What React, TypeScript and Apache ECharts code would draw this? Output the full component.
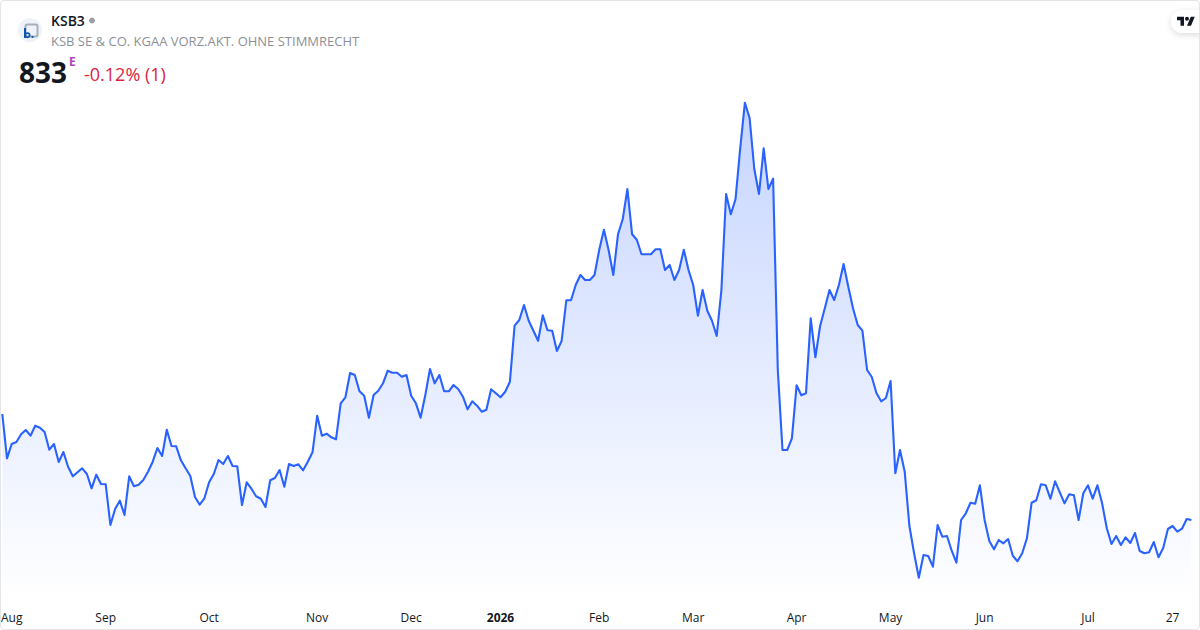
import React, { useEffect, useRef } from "react";
import * as echarts from "echarts";

const symbol = "KSB3";
const companyName = "KSB SE & CO. KGAA VORZ.AKT. OHNE STIMMRECHT";
const lastPrice = "833";
const exchangeFlag = "E";
const changeText = "-0.12% (1)";

const pricesA = [
  939, 894.7, 909, 911, 918.7, 923, 917.3, 927.3, 925.3, 921, 903.3, 909, 891, 901, 886.3, 876.7, 880.7, 884.7, 879, 864.7,
  878.3, 869, 868.7, 828, 844, 852.3, 838, 876.7, 866.7, 868.3, 873, 881.3, 891.3, 905, 897, 923.3, 907, 906.7, 892.7, 884.7,
  877, 856, 848.3, 854.7, 870.7, 879, 893, 889, 897, 887, 886.7, 848, 870.7, 864.3, 856.7, 854.3, 846, 872.7, 875, 883,
  866.3, 889, 887, 888.7, 882.7, 891.3, 900.7, 937.3, 917.3, 919.3, 915.7, 913.7, 949.7, 955.7, 980, 978, 961.7, 957.3, 935.3, 958,
  962.3, 969.7, 982.3, 980.3, 980.3, 976.3, 978, 957.3, 949.7, 935.3, 958, 984, 969.7, 978, 961.7, 961.7, 968, 964, 956.3, 943.7,
];
const pricesB = [
  951.7, 947.3, 941.3, 943.3, 963.7, 959.7, 955.7, 961.3, 971.3, 1027.3, 1033, 1048, 1032.3, 1022.3, 1012.3, 1037.7, 1022.7, 1022.3, 1002, 1012,
  1052.7, 1052.7, 1068, 1078, 1073, 1073, 1078, 1103, 1123.3, 1103, 1078, 1118.7, 1133.7, 1164, 1118.7, 1113.3, 1098.7, 1098.7, 1098.7, 1103.7,
  1103.7, 1083, 1088, 1073, 1083, 1103.3, 1083, 1068, 1037.3, 1063, 1042.3, 1032.3, 1017, 1063, 1159, 1138.7, 1153.7, 1204.7, 1250.3, 1235,
  1184, 1159, 1204.7, 1164, 1174.3, 983, 903, 903, 914.7, 967.7, 957.7, 959.7, 1034.7, 995.7, 1027, 1044.7, 1063, 1053, 1068, 1089,
];
const pricesC = [
  1066.3, 1044.7, 1028, 1022.3, 983, 976, 959.7, 951.7, 955, 972, 879.7, 903, 881.3, 827, 799.7, 775.3, 798, 797, 786.3, 828,
  816.3, 817, 802.3, 790.3, 833, 839.7, 850.3, 849.3, 867.7, 833, 812, 803.7, 813, 809.7, 814, 797.3, 791.7, 799.7, 814.7, 850.3,
  852.7, 868.7, 867.7, 854.3, 871.7, 860.7, 849.7, 858.7, 857.7, 833, 859.7, 867.7, 854.3, 867.7, 849.7, 824.7, 809, 817, 808, 815.7,
  810, 820, 802, 799.7, 800.7, 811, 795.7, 805, 824, 827, 821.3, 824.3, 834, 833,
];
const prices = [...pricesA, ...pricesB, ...pricesC];

const tickIndexes = [2, 22, 44, 67, 87, 106, 127, 147, 169, 189, 209, 231, 249];
const tickLabels = ["Aug", "Sep", "Oct", "Nov", "Dec", "2026", "Feb", "Mar", "Apr", "May", "Jun", "Jul", "27"];
const categories = prices.map((_, i) => {
  const k = tickIndexes.indexOf(i);
  return k >= 0 ? tickLabels[k] : String(i);
});

echarts.graphic.registerShape(
  "tvLogo",
  echarts.graphic.extendPath("M14 25H7V14H0V7h14v18zM28 25h-8l7.5-18h8L28 25zM20 15a4 4 0 1 0 0-8a4 4 0 0 0 0 8z", {}) as any
);

export default function App() {
  const ref = useRef<HTMLDivElement>(null);
  useEffect(() => {
    document.body.style.margin = "0";
    document.body.style.background = "#fff";
    const chart = echarts.init(ref.current!, undefined, { renderer: "svg" });
    const font = "'Open Sans', sans-serif";
    chart.setOption({
      animation: false,
      backgroundColor: "transparent",
      grid: { left: 2.3, right: 8.6, top: 0, height: 600, containLabel: false, outerBoundsMode: "none" },
      xAxis: {
        type: "category",
        data: categories,
        boundaryGap: false,
        axisLine: { show: false },
        axisTick: { show: false },
        splitLine: { show: false },
        axisLabel: {
          interval: (i: number) => tickIndexes.includes(i),
          formatter: (v: string) => (v === "2026" ? "{bold|2026}" : v),
          color: "#131722",
          fontFamily: font,
          fontSize: 12,
          margin: 11,
          hideOverlap: false,
          rich: { bold: { fontWeight: 700, fontFamily: font, fontSize: 12, color: "#131722" } },
        },
      },
      yAxis: { type: "value", min: 753, max: 1353, show: false, splitLine: { show: false } },
      series: [
        {
          type: "line",
          data: prices,
          showSymbol: false,
          symbol: "none",
          smooth: false,
          lineStyle: { color: "#2962ff", width: 2.1, join: "round" },
          areaStyle: {
            color: {
              type: "linear",
              x: 0,
              y: 0,
              x2: 0,
              y2: 1,
              colorStops: [
                { offset: 0, color: "rgba(41,98,255,0.38)" },
                { offset: 1, color: "rgba(41,98,255,0)" },
              ],
            },
          },
        },
      ],
      graphic: [
        { type: "rect", shape: { x: 1171, y: 10, width: 40, height: 23, r: 12 }, style: { fill: "#fff", shadowBlur: 6, shadowColor: "rgba(0,0,0,0.14)", shadowOffsetY: 2 }, z: 10 },
        { type: "tvLogo", x: 1177, y: 13.2, scaleX: 0.5, scaleY: 0.5, style: { fill: "#131722" }, z: 11 },
        { type: "circle", shape: { cx: 30, cy: 30, r: 12 }, style: { fill: "#eef2fa" }, z: 10 },
        { type: "rect", shape: { x: 25.5, y: 24.5, width: 12, height: 12, r: 2 }, style: { fill: "none", stroke: "#a9adb5", lineWidth: 2 }, z: 11 },
        { type: "rect", shape: { x: 24, y: 28, width: 2, height: 10 }, style: { fill: "#0e57ad" }, z: 12 },
        { type: "ring", shape: { cx: 27.5, cy: 35.2, r: 3, r0: 1.3 }, style: { fill: "#0e57ad" }, z: 12 },
        { type: "circle", shape: { cx: 32.5, cy: 37, r: 1.1 }, style: { fill: "#0e57ad" }, z: 12 },
        { type: "text", x: 51, y: 20.5, style: { text: symbol, fontFamily: font, fontSize: 14, fontWeight: 600, fill: "#131722", verticalAlign: "middle" }, z: 11 },
        { type: "circle", shape: { cx: 92, cy: 20.5, r: 3 }, style: { fill: "#9b9ea6" }, z: 11 },
        { type: "text", x: 51, y: 41, style: { text: companyName, fontFamily: font, fontSize: 13, fill: "#8c8f97", verticalAlign: "middle" }, z: 11 },
        { type: "text", x: 19, y: 71.5, style: { text: lastPrice, fontFamily: font, fontSize: 28, fontWeight: 700, fill: "#131722", verticalAlign: "middle" }, z: 11 },
        { type: "text", x: 69, y: 61.5, style: { text: exchangeFlag, fontFamily: font, fontSize: 12, fontWeight: 700, fill: "#ab47bc", verticalAlign: "middle" }, z: 11 },
        { type: "text", x: 84, y: 74, style: { text: changeText, fontFamily: font, fontSize: 18, fill: "#d9243f", verticalAlign: "middle" }, z: 11 },
      ],
    });
    return () => chart.dispose();
  }, []);
  return (
    <div style={{ position: "fixed", left: 0, top: 0, width: 1200, height: 630, overflow: "hidden", background: "#fff" }}>
      <div ref={ref} style={{ position: "absolute", left: 0, top: 0, width: 1200, height: 630 }} />
      <div style={{ position: "absolute", left: 0, top: 0, width: 1200, height: 630, boxSizing: "border-box", border: "1px solid #e4e5e8", borderRadius: 4, pointerEvents: "none" }} />
    </div>
  );
}
